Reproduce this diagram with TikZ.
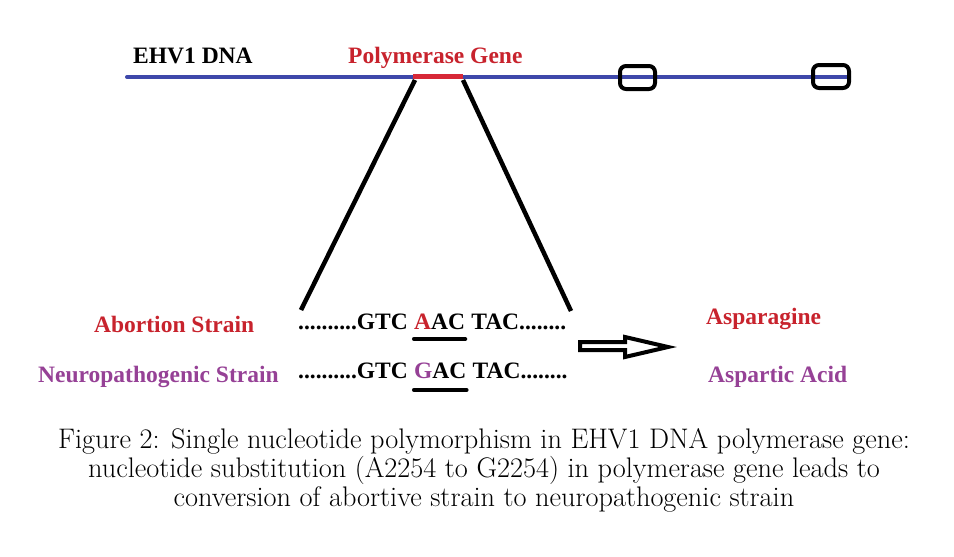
\documentclass[tikz,border=0pt]{standalone}
\usepackage{fontspec}
\newfontfamily\labelfont{Liberation Serif}
\definecolor{dnablue}{RGB}{62,72,170}
\definecolor{genered}{RGB}{215,40,55}
\definecolor{txtred}{RGB}{200,35,45}
\definecolor{txtpurple}{RGB}{150,65,150}
\begin{document}
\begin{tikzpicture}[x=1pt,y=-1pt,
  lbl/.style={font=\labelfont\fontsize{23.5}{26}\selectfont\bfseries, inner sep=0pt, anchor=base west},
  capline/.style={font=\rmfamily\fontsize{28.3}{30}\selectfont, inner sep=0pt, anchor=base},
  genebox/.style={draw=black, line width=4pt, rounded corners=6pt, inner sep=0pt, minimum height=23pt},
  zoomline/.style={draw=black, line width=4.5pt},
  ulstyle/.style={draw=black, line width=4pt, line cap=round},
  spc/.style={xshift=5.875pt}]
\useasboundingbox[fill=white] (0,0) rectangle (954,557);

% DNA line and gene
\coordinate (dnaL) at (127,77);
\coordinate (dnaR) at (849,77);
\draw[dnablue, line width=4pt, line cap=round] (dnaL) -- (dnaR);
\coordinate (geneL) at (413,76.5);
\coordinate (geneR) at (463,76.5);
\draw[genered, line width=5.5pt] (geneL) -- (geneR);

% boxes on DNA
\node[genebox, minimum width=35pt] (box1) at (637.5,77.5) {};
\node[genebox, minimum width=36pt] (box2) at (831,76.5) {};

% zoom lines
\coordinate (zlt) at (415,80);
\coordinate (zlb) at (301,310);
\coordinate (zrt) at (463,80);
\coordinate (zrb) at (571,311);
\draw[zoomline] (zlt) -- (zlb);
\draw[zoomline] (zrt) -- (zrb);

% top labels
\node[lbl] (ehv) at (133,63) {EHV1 DNA};
\node[lbl, text=txtred] (poly) at (348,63) {Polymerase Gene};

% strain labels
\node[lbl, text=txtred] (abort) at (94,332) {Abortion Strain};
\node[lbl, text=txtpurple] (neuro) at (38,382) {Neuropathogenic Strain};

% sequences
\node[lbl] (s1) at (298,329) {..........GTC};
\node[lbl] (c1) at ([spc]s1.base east) {\textcolor{txtred}{A}AC};
\node[lbl] (t1) at ([spc]c1.base east) {TAC........};
\draw[ulstyle] ([yshift=-10pt]c1.base west) -- ([yshift=-10pt]c1.base east);

\node[lbl] (s2) at (298,378) {..........GTC};
\node[lbl] (c2) at ([spc]s2.base east) {\textcolor{txtpurple}{G}AC};
\node[lbl] (t2) at ([spc]c2.base east) {TAC........};
\draw[ulstyle] ([yshift=-12pt]c2.base west) -- ([yshift=-12pt]c2.base east);

% hollow arrow
\draw[black, line width=4pt, fill=white, line join=miter]
  (580,342) -- (625,342) -- (625,337) -- (668,347) -- (625,357) -- (625,350) -- (580,350) -- cycle;

% amino acids
\node[lbl, text=txtred] (asn) at (706,324) {Asparagine};
\node[lbl, text=txtpurple] (asp) at (708,382) {Aspartic Acid};

% caption
\node[capline] (cap1) at (484,448) {Figure 2: Single nucleotide polymorphism in EHV1 DNA polymerase gene:};
\node[capline] (cap2) at (484,477) {nucleotide substitution (A2254 to G2254) in polymerase gene leads to};
\node[capline] (cap3) at (484,506) {conversion of abortive strain to neuropathogenic strain};
\end{tikzpicture}
\end{document}
